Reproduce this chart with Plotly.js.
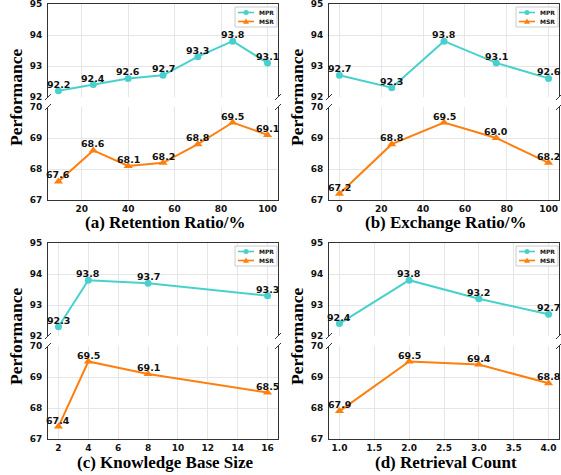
<!DOCTYPE html>
<html><head><meta charset="utf-8">
<script src="https://cdn.plot.ly/plotly-3.0.1.min.js"></script>
<style>html,body{margin:0;padding:0;background:#fff}#c{width:561px;height:475px}</style>
</head><body><div id="c"></div>
<script>
// ---- data ----
const retentionX = [10, 25, 40, 55, 70, 85, 100];
const retentionMPR = [92.2, 92.4, 92.6, 92.7, 93.3, 93.8, 93.1];
const retentionMSR = [67.6, 68.6, 68.1, 68.2, 68.8, 69.5, 69.1];

const exchangeX = [0, 25, 50, 75, 100];
const exchangeMPR = [92.7, 92.3, 93.8, 93.1, 92.6];
const exchangeMSR = [67.2, 68.8, 69.5, 69.0, 68.2];

const kbSizeX = [2, 4, 8, 16];
const kbSizeMPR = [92.3, 93.8, 93.7, 93.3];
const kbSizeMSR = [67.4, 69.5, 69.1, 68.5];

const retrievalX = [1, 2, 3, 4];
const retrievalMPR = [92.4, 93.8, 93.2, 92.7];
const retrievalMSR = [67.9, 69.5, 69.4, 68.8];

const seriesNames = ['MPR', 'MSR'];
const panelTitles = ['(a) Retention Ratio/%', '(b) Exchange Ratio/%', '(c) Knowledge Base Size', '(d) Retrieval Count'];
const yLabel = 'Performance';
const upperTicks = [92, 93, 94, 95];
const lowerTicks = [67, 68, 69, 70];

// ---- layout helpers ----
const W = 561, H = 475;
const px = v => v / W;
const py = v => 1 - v / H;
const colMPR = '#48D1CC', colMSR = '#FF7F0E';
const spine = '#333333', grid = '#e6e6e6';
const tickFont = {family: 'DejaVu Sans', size: 9, color: '#111', weight: 'bold'};
const labelFont = {family: 'DejaVu Sans', size: 9.5, color: '#111', weight: 'bold'};

const panels = [
  {x: retentionX, mpr: retentionMPR, msr: retentionMSR, range: [5.5, 104.5], dtick: 20, fmt: '', L: 48, R: 278, T: 4},
  {x: exchangeX, mpr: exchangeMPR, msr: exchangeMSR, range: [-5, 105], dtick: 20, fmt: '', L: 329, R: 559, T: 4},
  {x: kbSizeX, mpr: kbSizeMPR, msr: kbSizeMSR, range: [1.3, 16.7], dtick: 2, fmt: '', L: 48, R: 278, T: 243},
  {x: retrievalX, mpr: retrievalMPR, msr: retrievalMSR, range: [0.85, 4.15], dtick: 0.5, fmt: '.1f', L: 329, R: 559, T: 243}
];

const data = [], shapes = [], annotations = [];
const layout = {width: W, height: H, margin: {l: 0, r: 0, t: 0, b: 0}, showlegend: false,
  paper_bgcolor: '#fff', plot_bgcolor: '#fff', shapes, annotations};

panels.forEach((p, i) => {
  const lo = 2 * i + 1, up = 2 * i + 2;
  const upTop = p.T, upBot = p.T + 93, loTop = p.T + 103, loBot = p.T + 196;
  const xd = [px(p.L), px(p.R)];
  const xa = (anchor, side, showLabels) => ({domain: xd, range: p.range, anchor: anchor, side: side,
    showline: true, linecolor: spine, linewidth: 1, showgrid: true, gridcolor: grid, zeroline: false,
    dtick: p.dtick, tick0: 0, tickformat: p.fmt, ticks: '', showticklabels: showLabels, tickfont: tickFont,
    ticklabeloverflow: 'allow'});
  const ya = (anchor, dom, rng, tv) => ({domain: dom, range: rng, anchor: anchor, tickvals: tv,
    showline: true, mirror: true, linecolor: spine, linewidth: 1, showgrid: true, gridcolor: grid,
    zeroline: false, ticks: '', tickfont: tickFont, ticklabelstandoff: 3, ticklabeloverflow: 'allow'});
  layout['xaxis' + lo] = xa('y' + lo, 'bottom', true);
  layout['xaxis' + up] = xa('y' + up, 'top', false);
  layout['yaxis' + lo] = ya('x' + lo, [py(loBot), py(loTop)], [67, 70], lowerTicks);
  layout['yaxis' + up] = ya('x' + up, [py(upBot), py(upTop)], [92, 95], upperTicks);

  data.push({type: 'scatter', mode: 'lines+markers', x: p.x, y: p.mpr, name: seriesNames[0],
    xaxis: 'x' + up, yaxis: 'y' + up, line: {color: colMPR, width: 2},
    marker: {color: colMPR, size: 7, symbol: 'circle'}, cliponaxis: false});
  data.push({type: 'scatter', mode: 'lines+markers', x: p.x, y: p.msr, name: seriesNames[1],
    xaxis: 'x' + lo, yaxis: 'y' + lo, line: {color: colMSR, width: 2},
    marker: {color: colMSR, size: 8, symbol: 'triangle-up'}, cliponaxis: false});

  // value labels
  p.x.forEach((xv, k) => {
    annotations.push({xref: 'x' + up, yref: 'y' + up, x: xv, y: p.mpr[k], text: p.mpr[k].toFixed(1),
      showarrow: false, xanchor: 'center', yanchor: 'bottom', yshift: -1, font: labelFont});
    annotations.push({xref: 'x' + lo, yref: 'y' + lo, x: xv, y: p.msr[k], text: p.msr[k].toFixed(1),
      showarrow: false, xanchor: 'center', yanchor: 'bottom', yshift: -1, font: labelFont});
  });

  // break marks
  [p.L, p.R].forEach(xx => {
    [upBot, loTop].forEach(yy => {
      shapes.push({type: 'line', xref: 'paper', yref: 'paper', x0: px(xx - 3), y0: py(yy + 3), x1: px(xx + 3), y1: py(yy - 3),
        line: {color: spine, width: 1}});
    });
  });

  // axis titles
  annotations.push({xref: 'paper', yref: 'paper', x: px((p.L + p.R) / 2 + 2), y: py(loBot + 23), text: panelTitles[i],
    showarrow: false, xanchor: 'center', yanchor: 'middle',
    font: {family: 'Liberation Serif', size: 17, color: '#000', weight: 'bold'}});
  annotations.push({xref: 'paper', yref: 'paper', x: px(p.L - 32), y: py(p.T + 94), text: yLabel, textangle: -90,
    showarrow: false, xanchor: 'center', yanchor: 'middle',
    font: {family: 'Liberation Serif', size: 17.5, color: '#000', weight: 'bold'}});

  // legend box
  const bx0 = p.R - 43, bx1 = p.R - 1, by0 = p.T + 3, by1 = p.T + 23;
  shapes.push({type: 'rect', xref: 'paper', yref: 'paper', x0: px(bx0), x1: px(bx1), y0: py(by1), y1: py(by0),
    line: {color: '#cccccc', width: 1}, fillcolor: 'rgba(255,255,255,0.9)'});
  const rows = [{c: colMPR, y: by0 + 5.5, n: seriesNames[0], sym: 'circle'}, {c: colMSR, y: by0 + 14.5, n: seriesNames[1], sym: 'tri'}];
  rows.forEach(r => {
    shapes.push({type: 'line', xref: 'paper', yref: 'paper', x0: px(bx0 + 3), x1: px(bx0 + 19), y0: py(r.y), y1: py(r.y),
      line: {color: r.c, width: 1.6}});
    const cx = bx0 + 11;
    if (r.sym === 'circle') {
      shapes.push({type: 'circle', xref: 'paper', yref: 'paper', x0: px(cx - 2.5), x1: px(cx + 2.5), y0: py(r.y + 2.5), y1: py(r.y - 2.5),
        line: {width: 0}, fillcolor: r.c});
    } else {
      const path = 'M ' + px(cx - 3) + ' ' + py(r.y + 2.2) + ' L ' + px(cx + 3) + ' ' + py(r.y + 2.2) + ' L ' + px(cx) + ' ' + py(r.y - 3) + ' Z';
      shapes.push({type: 'path', xref: 'paper', yref: 'paper', path: path, line: {width: 0}, fillcolor: r.c});
    }
    annotations.push({xref: 'paper', yref: 'paper', x: px(bx0 + 22), y: py(r.y), text: r.n, showarrow: false,
      xanchor: 'left', yanchor: 'middle', font: {family: 'DejaVu Sans', size: 6, color: '#111', weight: 'bold'}});
  });
});

Plotly.newPlot('c', data, layout, {displayModeBar: false, staticPlot: true});
</script>
</body></html>
